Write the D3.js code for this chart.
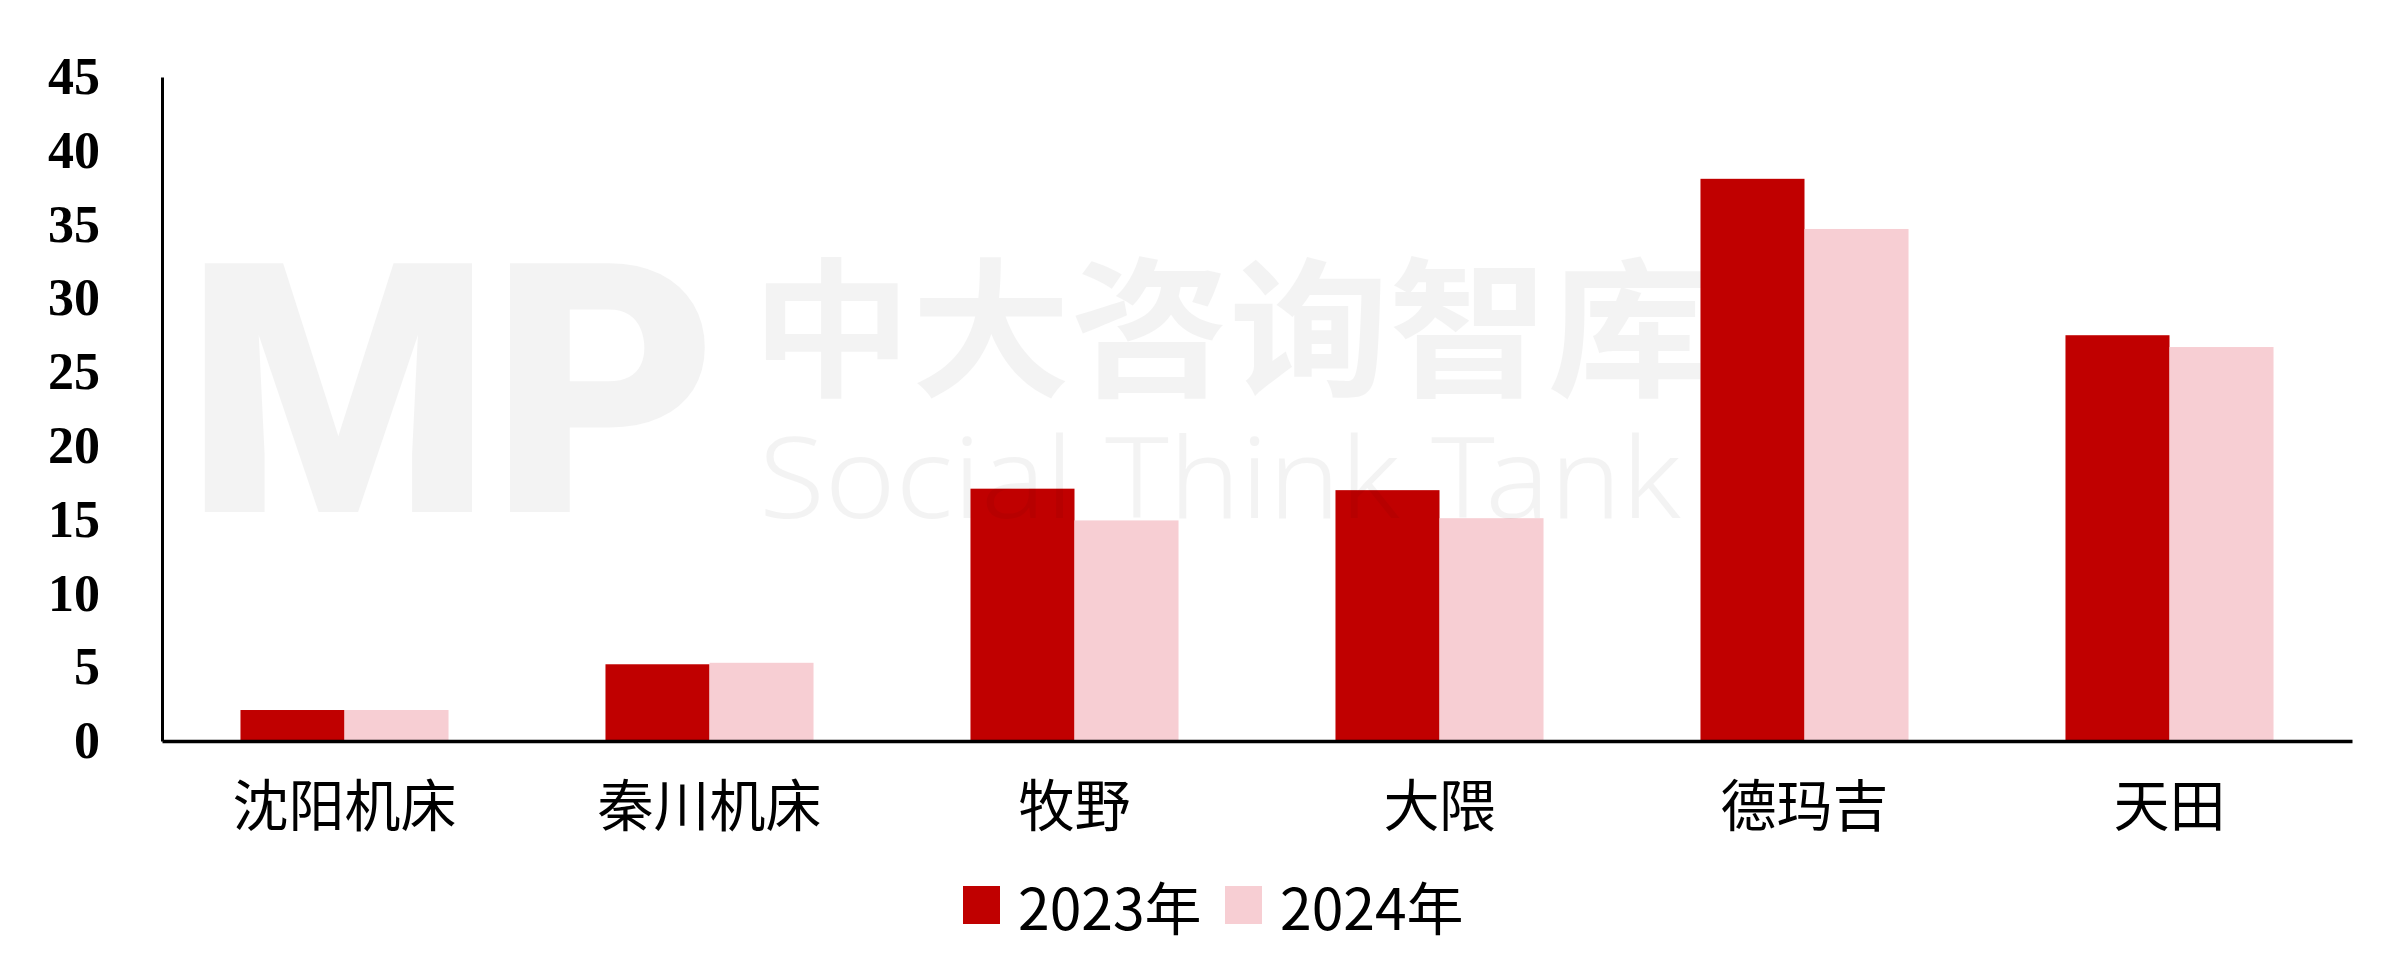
<!DOCTYPE html>
<html><head><meta charset="utf-8">
<script src="https://cdn.jsdelivr.net/npm/d3@7/dist/d3.min.js"></script>
<style>html,body{margin:0;padding:0;background:#fff;}svg{display:block;}</style>
</head><body>
<script>
const categories = ["沈阳机床","秦川机床","牧野","大隈","德玛吉","天田"];
const seriesNames = ["2023年","2024年"];
const values2023 = [2.1, 5.2, 17.1, 17.0, 38.1, 27.5];
const values2024 = [2.1, 5.3, 14.95, 15.1, 34.7, 26.7];
const yTicks = [0,5,10,15,20,25,30,35,40,45];
const colors = ["#C00000", "#F7CED3"];

const W = 2396, H = 953;
const svg = d3.select("body").append("svg").attr("width", W).attr("height", H);

const x0 = d3.scaleBand().domain(categories).range([162, 2352]).paddingInner(0.43).paddingOuter(0.215);
const x1 = d3.scaleBand().domain(seriesNames).range([0, x0.bandwidth()]);
const y = d3.scaleLinear().domain([0, 45]).range([741, 77]);

// bars
const data = categories.map((c, i) => ({cat: c, vals: [values2023[i], values2024[i]]}));
const g = svg.append("g");
g.selectAll("g.cat").data(data).join("g").attr("class","cat")
  .attr("transform", d => `translate(${x0(d.cat)},0)`)
  .selectAll("rect").data(d => d.vals.map((v, j) => ({s: seriesNames[j], v, j})))
  .join("rect")
  .attr("x", d => x1(d.s)).attr("width", x1.bandwidth())
  .attr("y", d => y(d.v)).attr("height", d => y(0) - y(d.v))
  .attr("fill", d => colors[d.j]);

// watermark
const wm = svg.append("g").attr("fill", "#000").attr("opacity", 0.045).style("pointer-events","none");
wm.append("text").attr("x", 186).attr("y", 512).attr("font-family","Roboto, 'DejaVu Sans'")
  .attr("font-weight", 900).attr("font-size", 350).attr("textLength", 532).attr("lengthAdjust","spacingAndGlyphs").text("MP");
wm.append("text").attr("x", 752).attr("y", 385).attr("font-family","'Noto Sans CJK SC'")
  .attr("font-weight", 700).attr("font-size", 150).attr("textLength", 955).attr("lengthAdjust","spacingAndGlyphs").text("中大咨询智库");
wm.append("text").attr("x", 759).attr("y", 518).attr("font-family","'Noto Sans', 'Open Sans'")
  .attr("font-weight", 300).attr("font-size", 112).attr("textLength", 922).attr("lengthAdjust","spacingAndGlyphs").text("Social Think Tank");

// y axis
const yAxis = d3.axisLeft(y).tickValues(yTicks).tickSize(0).tickPadding(62);
const ya = svg.append("g").attr("transform","translate(162,0)").call(yAxis);
ya.select(".domain").attr("stroke","#000").attr("stroke-width",3);
ya.selectAll("text").attr("font-family","'Liberation Serif', 'Times New Roman', serif")
  .attr("font-weight","bold").attr("font-size",52).attr("fill","#000");

// x axis
const xAxis = d3.axisBottom(x0).tickSize(0).tickPadding(0);
const xa = svg.append("g").attr("transform","translate(0,741)").call(xAxis);
xa.select(".domain").attr("stroke","#000").attr("stroke-width",3.5);
xa.selectAll("text").attr("font-family","'Noto Sans CJK SC', sans-serif")
  .attr("font-size",56).attr("fill","#000").attr("dy",null).attr("y",60)
  .attr("dominant-baseline","central");

// legend
const lg = svg.append("g");
const legendX = [963, 1225];
seriesNames.forEach((s, i) => {
  lg.append("rect").attr("x", legendX[i]).attr("y", 886).attr("width", 37).attr("height", 38).attr("fill", colors[i]);
  lg.append("text").attr("x", legendX[i] + 55).attr("y", 905).attr("dominant-baseline","central")
    .attr("font-family","'Noto Sans CJK SC', sans-serif").attr("font-size",57).attr("fill","#000").text(s);
});
</script>
</body></html>
